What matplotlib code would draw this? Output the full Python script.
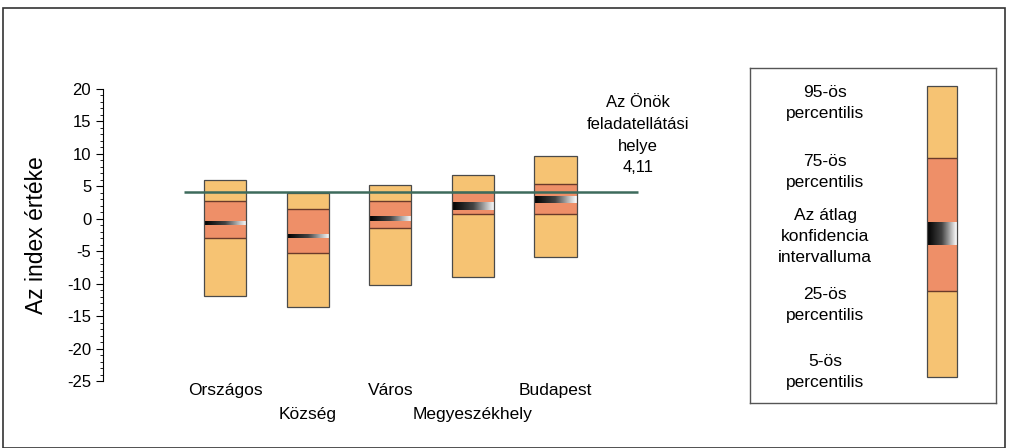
import numpy as np
import matplotlib
matplotlib.use("Agg")
import matplotlib.pyplot as plt
from matplotlib.patches import Rectangle
from matplotlib.colors import LinearSegmentedColormap
from matplotlib.ticker import MultipleLocator

plt.rcParams['font.family'] = ['Liberation Sans', 'DejaVu Sans']
plt.rcParams['axes.unicode_minus'] = False

# data
categories = ["Országos", "Község", "Város", "Megyeszékhely", "Budapest"]
p5 = [-11.9, -13.6, -10.2, -9.0, -5.9]
p25 = [-2.9, -5.3, -1.4, 0.8, 0.7]
ci_low = [-0.9, -2.9, -0.35, 1.3, 2.4]
ci_high = [-0.4, -2.3, 0.3, 2.4, 3.4]
p75 = [2.8, 1.45, 2.8, 4.2, 5.3]
p95 = [5.9, 3.9, 5.2, 6.8, 9.7]
own_value = 4.11
own_label = "Az Önök\nfeladatellátási\nhelye\n4,11"

# legend key, schematic scale 0-100
key_levels = [0, 29.5, 45.3, 53.1, 75.3, 100]
key_texts = ["95-ös\npercentilis", "75-ös\npercentilis",
             "Az átlag\nkonfidencia\nintervalluma", "25-ös\npercentilis",
             "5-ös\npercentilis"]
key_text_y = [94.2, 70.4, 48.1, 24.7, 1.6]

LIGHT = '#F6C373'
RED = '#EE8F68'
EDGE = '#4a4a4a'
LINE = '#6a3a2a'
ci_cmap = LinearSegmentedColormap.from_list("ci", ['#000000', '#444444', '#ffffff'])
grad = np.linspace(0, 1, 64).reshape(1, -1)

W, H = 1012, 448
fig = plt.figure(figsize=(W / 100, H / 100), dpi=100)

# outer frame
fig.patches.append(Rectangle((3 / W, 0), (1005 - 3) / W, (H - 8) / H, transform=fig.transFigure,
                             fill=False, edgecolor='#333333', linewidth=1.2))

ax = fig.add_axes([103 / W, (H - 381) / H, (700 - 103) / W, (381 - 89) / H])
width = 0.51
x = np.arange(len(categories))


def draw_box(a, xc, w, lo, q1, cl, ch, q3, hi):
    a.add_patch(Rectangle((xc - w / 2, lo), w, q1 - lo, facecolor=LIGHT, edgecolor='none'))
    a.add_patch(Rectangle((xc - w / 2, q1), w, q3 - q1, facecolor=RED, edgecolor='none'))
    a.add_patch(Rectangle((xc - w / 2, q3), w, hi - q3, facecolor=LIGHT, edgecolor='none'))
    a.imshow(grad, cmap=ci_cmap, aspect='auto', extent=(xc - w / 2, xc + w / 2, cl, ch), zorder=2)
    a.hlines([q1, q3], xc - w / 2, xc + w / 2, color=LINE, linewidth=1, zorder=3)
    a.add_patch(Rectangle((xc - w / 2, lo), w, hi - lo, fill=False, edgecolor=EDGE,
                          linewidth=0.9, zorder=4))


for i in range(len(categories)):
    draw_box(ax, x[i], width, p5[i], p25[i], ci_low[i], ci_high[i], p75[i], p95[i])

ax.hlines(own_value, -0.5, 5.0, color='#3d6b5c', linewidth=1.8, zorder=5)
ax.text(5.0, 19.0, own_label, ha='center', va='top', fontsize=12, linespacing=1.55)

for i, name in enumerate(categories):
    ax.text(x[i], -26.4 if i % 2 == 0 else -30.1, name, ha='center', va='center',
            fontsize=12.5, clip_on=False)

ax.set_xlim(-1.48, 5.75)
ax.set_ylim(-25, 20)
ax.yaxis.set_major_locator(MultipleLocator(5))
ax.yaxis.set_minor_locator(MultipleLocator(1))
ax.tick_params(axis='y', which='major', labelsize=12, length=5, width=0.8)
ax.tick_params(axis='y', which='minor', length=2.5, width=0.6)
ax.set_xticks([])
for s in ['top', 'right', 'bottom']:
    ax.spines[s].set_visible(False)
ax.spines['left'].set_linewidth(0.8)
ax.set_ylabel("Az index értéke", fontsize=16.5, labelpad=14)
ax.patch.set_alpha(0)

# legend box
lax = fig.add_axes([750 / W, (H - 403) / H, (996 - 750) / W, (403 - 68) / H])
lax.set_xlim(0, 246)
lax.set_ylim(-9.05, 106.2)
for s in lax.spines.values():
    s.set_edgecolor('#555555')
    s.set_linewidth(1)
lax.set_xticks([])
lax.set_yticks([])
draw_box(lax, 192, 30, *key_levels)
for t, yy in zip(key_texts, key_text_y):
    lax.text(75, yy, t, ha='center', va='center', fontsize=12.5, linespacing=1.5)

fig.savefig("out.png", dpi=100)
